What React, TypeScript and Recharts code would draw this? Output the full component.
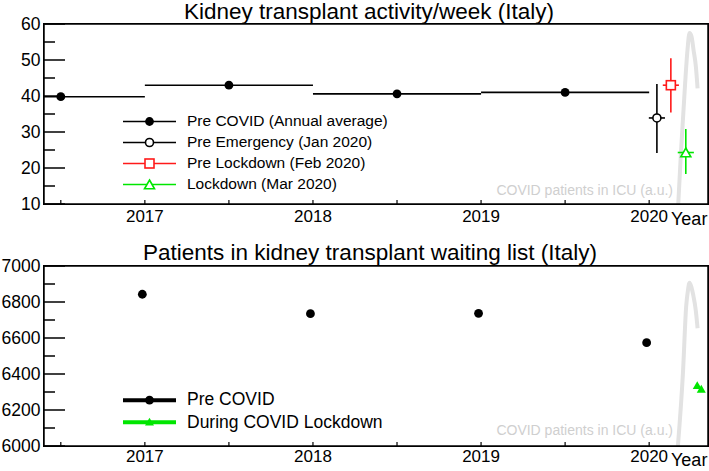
import React from "react";
import { ComposedChart, Scatter, Line, XAxis, YAxis, ErrorBar, ReferenceLine, Legend } from "recharts";

const FONT = "'Liberation Sans', Arial, Helvetica, sans-serif";

// shared x axis (years)
const yearDomain = [2016.4, 2020.35];
const yearTicks = [2016.5, 2017, 2017.5, 2018, 2018.5, 2019, 2019.5, 2020];

// top: transplants per week
const rateDomain = [10, 60];
const rateTicks = [10, 15, 20, 25, 30, 35, 40, 45, 50, 55, 60];
const annualX = [2016.5, 2017.5, 2018.5, 2019.5];
const annualRate = [39.8, 43.0, 40.6, 41.0];
// visible part of each annual bar (left, right), the 2016 one starts at the frame
const annualSpanLeft = [0.1, 0.5, 0.5, 0.5];
const annualSpanRight = [0.5, 0.5, 0.5, 0.5];
// Jan, Feb, Mar 2020
const monthX = [2020.046, 2020.129, 2020.218];
const monthRate = [33.9, 43.0, 24.3];
const monthErrLow = [9.7, 7.6, 6.0];
const monthErrHigh = [9.4, 7.5, 6.5];
const monthHalfSpan = [0.048, 0.048, 0.048];
const icuTopX = [2020.173, 2020.19, 2020.214, 2020.228, 2020.24, 2020.252, 2020.264, 2020.278, 2020.288];
const icuTopY = [10, 25, 43.6, 52.8, 57.5, 56.5, 52.8, 48.1, 42.1];

// bottom: waiting list
const listDomain = [6000, 7000];
const listTicks = [6000, 6100, 6200, 6300, 6400, 6500, 6600, 6700, 6800, 6900, 7000];
const listX = [2016.985, 2017.985, 2018.985, 2019.985];
const listY = [6843, 6735, 6737, 6574];
const lockX = [2020.286, 2020.31];
const lockY = [6335, 6315];
const icuBotX = [2020.171, 2020.201, 2020.22, 2020.231, 2020.24, 2020.252, 2020.262, 2020.277, 2020.288];
const icuBotY = [6000, 6406, 6774, 6867, 6907, 6880, 6839, 6756, 6654];

const annual = annualX.map((x, i) => ({ x, y: annualRate[i], ex: [annualSpanLeft[i], annualSpanRight[i]] }));
const months = monthX.map((x, i) => ({ x, y: monthRate[i], ex: monthHalfSpan[i], ey: [monthErrLow[i], monthErrHigh[i]] }));
const janData = [months[0]];
const febData = [months[1]];
const marData = [months[2]];
const icuTop = icuTopX.map((x, i) => ({ x, y: icuTopY[i] }));
const list = listX.map((x, i) => ({ x, y: listY[i] }));
const lock = lockX.map((x, i) => ({ x, y: lockY[i] }));
const icuBot = icuBotX.map((x, i) => ({ x, y: icuBotY[i] }));

const RED = "#ff1a1a";
const GREEN = "#00e600";
const ICU = "#e2e2e2";
const frameLine = { stroke: "#000", strokeWidth: 1.5 };
const topMargin = { top: 24, right: 1, bottom: 0, left: 0 };
const botMargin = { top: 31, right: 1, bottom: 0, left: 0 };
const topLegendPos = { left: 123, top: 110.5, width: 320 };
const botLegendPos = { left: 123, top: 153.8, width: 320 };

const makeXTick = (dy: number) => (p: any) => {
  const v = p.payload.value;
  return (
    <g>
      <line x1={p.x} x2={p.x} y1={p.y} y2={p.y - 4} stroke="#000" strokeWidth={1.2} />
      {Number.isInteger(v) && (
        <text x={p.x} y={p.y + dy} textAnchor="middle" fontSize={17} fontFamily={FONT} fill="#000">{v}</text>
      )}
    </g>
  );
};

const makeYTick = (step: number) => (p: any) => {
  const v = p.payload.value;
  const major = v % step === 0;
  return (
    <g>
      <line x1={p.x} x2={p.x + (major ? 21 : 11)} y1={p.y} y2={p.y} stroke="#000" strokeWidth={1.5} />
      {major && (
        <text x={p.x - 3.5} y={p.y} dy="0.36em" textAnchor="end" fontSize={17.5} fontFamily={FONT} fill="#000">{v}</text>
      )}
    </g>
  );
};

const xTickTop = makeXTick(18);
const xTickBot = makeXTick(15.5);
const yTickTop = makeYTick(10);
const yTickBot = makeYTick(200);

const tri = (cx: number, cy: number, s: number) => `${cx},${cy - s} ${cx + s},${cy + s * 0.75} ${cx - s},${cy + s * 0.75}`;

const marker = (kind: string, color: string, cx: number, cy: number) => {
  if (kind === "dot") return <circle cx={cx} cy={cy} r={4.4} fill={color} />;
  if (kind === "circle") return <circle cx={cx} cy={cy} r={4} fill="#fff" stroke={color} strokeWidth={1.6} />;
  if (kind === "square") return <rect x={cx - 4.5} y={cy - 4.5} width={9} height={9} fill="#fff" stroke={color} strokeWidth={1.6} />;
  if (kind === "triangle") return <polygon points={tri(cx, cy + 0.5, 5)} fill="#fff" stroke={color} strokeWidth={1.6} />;
  return <polygon points={tri(cx, cy, 4.5)} fill={color} />;
};

const makeShape = (kind: string, color: string) => (p: any) => marker(kind, color, p.cx, p.cy);
const blackDot = makeShape("dot", "#000");
const openCircle = makeShape("circle", "#000");
const redSquare = makeShape("square", RED);
const greenTriangle = makeShape("triangle", GREEN);
const greenFilledTri = makeShape("filledTri", GREEN);

const topLegend = [
  { label: "Pre COVID (Annual average)", color: "#000", kind: "dot" },
  { label: "Pre Emergency (Jan 2020)", color: "#000", kind: "circle" },
  { label: "Pre Lockdown (Feb 2020)", color: RED, kind: "square" },
  { label: "Lockdown (Mar 2020)", color: GREEN, kind: "triangle" },
];
const botLegend = [
  { label: "Pre COVID", color: "#000", kind: "dot" },
  { label: "During COVID Lockdown", color: GREEN, kind: "filledTri" },
];

function LegendBox({ items, rowH, fontSize, lineW }: any) {
  return (
    <div style={{ fontFamily: FONT }}>
      {items.map((it: any) => (
        <div key={it.label} style={{ display: "flex", alignItems: "center", height: rowH }}>
          <svg width={53} height={rowH} style={{ overflow: "visible" }}>
            <line x1={0} x2={53} y1={rowH / 2} y2={rowH / 2} stroke={it.color} strokeWidth={lineW} />
            {marker(it.kind, it.color, 26.5, rowH / 2)}
          </svg>
          <span style={{ marginLeft: 11, fontSize, color: "#000", whiteSpace: "nowrap" }}>{it.label}</span>
        </div>
      ))}
    </div>
  );
}

const topLegendContent = () => <LegendBox items={topLegend} rowH={21} fontSize={15.5} lineW={1.6} />;
const botLegendContent = () => <LegendBox items={botLegend} rowH={22.3} fontSize={17.5} lineW={4} />;

function TransplantChart() {
  return (
    <ComposedChart width={709} height={235} margin={topMargin}>
      <XAxis type="number" dataKey="x" domain={yearDomain} allowDataOverflow ticks={yearTicks} interval={0}
        tickLine={false} axisLine={frameLine} tickSize={0} tickMargin={0} height={31} tick={xTickTop} />
      <YAxis type="number" dataKey="y" domain={rateDomain} allowDataOverflow ticks={rateTicks} interval={0}
        tickLine={false} axisLine={frameLine} tickSize={0} tickMargin={0} width={44} tick={yTickTop} />
      <ReferenceLine y={rateDomain[1]} stroke="#000" strokeWidth={1.5} />
      <ReferenceLine x={yearDomain[1]} stroke="#000" strokeWidth={1.5} />
      <Line data={icuTop} dataKey="y" type="monotone" stroke={ICU} strokeWidth={4} dot={false} isAnimationActive={false} />
      <Scatter data={annual} shape={blackDot} isAnimationActive={false}>
        <ErrorBar dataKey="ex" direction="x" width={0} stroke="#000" strokeWidth={1.6} />
      </Scatter>
      <Scatter data={janData} shape={openCircle} isAnimationActive={false}>
        <ErrorBar dataKey="ex" direction="x" width={0} stroke="#000" strokeWidth={1.6} />
        <ErrorBar dataKey="ey" direction="y" width={0} stroke="#000" strokeWidth={1.6} />
      </Scatter>
      <Scatter data={febData} shape={redSquare} isAnimationActive={false}>
        <ErrorBar dataKey="ex" direction="x" width={0} stroke={RED} strokeWidth={1.6} />
        <ErrorBar dataKey="ey" direction="y" width={0} stroke={RED} strokeWidth={1.6} />
      </Scatter>
      <Scatter data={marData} shape={greenTriangle} isAnimationActive={false}>
        <ErrorBar dataKey="ex" direction="x" width={0} stroke={GREEN} strokeWidth={1.6} />
        <ErrorBar dataKey="ey" direction="y" width={0} stroke={GREEN} strokeWidth={1.6} />
      </Scatter>
      <Legend layout="vertical" align="center" verticalAlign="middle" wrapperStyle={topLegendPos} content={topLegendContent} />
    </ComposedChart>
  );
}

function WaitingChart() {
  return (
    <ComposedChart width={709} height={236} margin={botMargin}>
      <XAxis type="number" dataKey="x" domain={yearDomain} allowDataOverflow ticks={yearTicks} interval={0}
        tickLine={false} axisLine={frameLine} tickSize={0} tickMargin={0} height={25} tick={xTickBot} />
      <YAxis type="number" dataKey="y" domain={listDomain} allowDataOverflow ticks={listTicks} interval={0}
        tickLine={false} axisLine={frameLine} tickSize={0} tickMargin={0} width={44} tick={yTickBot} />
      <ReferenceLine y={listDomain[1]} stroke="#000" strokeWidth={1.5} />
      <ReferenceLine x={yearDomain[1]} stroke="#000" strokeWidth={1.5} />
      <Line data={icuBot} dataKey="y" type="monotone" stroke={ICU} strokeWidth={4} dot={false} isAnimationActive={false} />
      <Scatter data={list} shape={blackDot} isAnimationActive={false} />
      <Scatter data={lock} shape={greenFilledTri} isAnimationActive={false} />
      <Legend layout="vertical" align="center" verticalAlign="middle" wrapperStyle={botLegendPos} content={botLegendContent} />
    </ComposedChart>
  );
}

// plot-area frames (chart offset + margins above)
const frameBox = (top: number): React.CSSProperties => ({
  position: "absolute", left: 43.25, top: top - 0.75, width: 665.5, height: 181.5,
  border: "1.5px solid #000", boxSizing: "border-box", pointerEvents: "none",
});

export default function App() {
  return (
    <div style={{ position: "absolute", left: 0, top: 0, width: 709, height: 471, background: "#fff", fontFamily: FONT }}>
      <div style={{ position: "absolute", left: 0, top: 0 }}><TransplantChart /></div>
      <div style={{ position: "absolute", left: 0, top: 235 }}><WaitingChart /></div>
      <svg width={709} height={471} style={{ position: "absolute", left: 0, top: 0, pointerEvents: "none" }} fontFamily={FONT}>
        <text x={369} y={18.5} textAnchor="middle" fontSize={22.5} fill="#000">Kidney transplant activity/week (Italy)</text>
        <text x={370} y={259.5} textAnchor="middle" fontSize={22.5} fill="#000">Patients in kidney transplant waiting list (Italy)</text>
        <text x={671} y={225} fontSize={18} fill="#000">Year</text>
        <text x={671} y={466} fontSize={18} fill="#000">Year</text>
        <text x={673} y={195} textAnchor="end" fontSize={14} fill="#cfcfcf">COVID patients in ICU (a.u.)</text>
        <text x={673} y={435} textAnchor="end" fontSize={14} fill="#cfcfcf">COVID patients in ICU (a.u.)</text>
      </svg>
      <div style={frameBox(24)} />
      <div style={frameBox(266)} />
    </div>
  );
}
